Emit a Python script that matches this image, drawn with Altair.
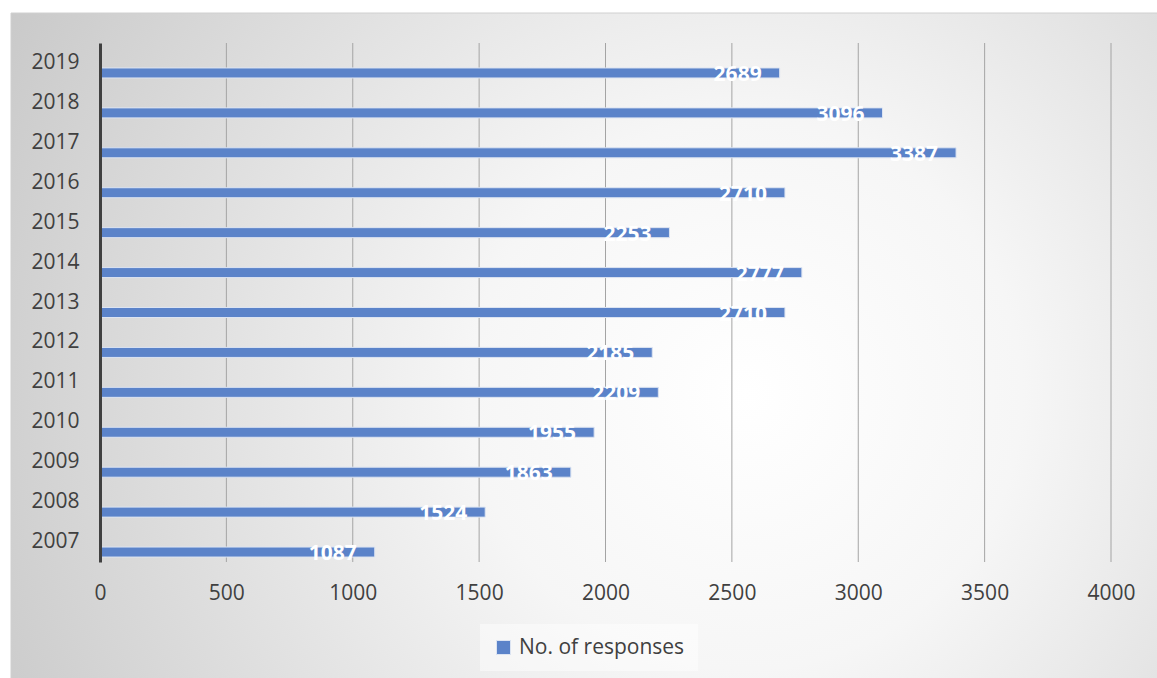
import altair as alt
import pandas as pd

years = ["2007", "2008", "2009", "2010", "2011", "2012", "2013",
         "2014", "2015", "2016", "2017", "2018", "2019"]
responses = [1087, 1524, 1863, 1955, 2209, 2185, 2710,
             2777, 2253, 2710, 3387, 3096, 2689]
series_name = "No. of responses"
x_ticks = [0, 500, 1000, 1500, 2000, 2500, 3000, 3500, 4000]

df = pd.DataFrame({"year": years, "value": responses, "series": series_name})
grid_df = pd.DataFrame({"value": x_ticks[1:]})

FONT = "Open Sans"
BAR = "#5b83c9"
FS = 21

bg = alt.Chart(alt.Data(values=[{"a": 1}])).mark_rect(
    fill=alt.RadialGradient(
        gradient="radial",
        x1=0.64, y1=0.54, r1=0.0,
        x2=0.64, y2=0.54, r2=0.8,
        stops=[
            alt.GradientStop(offset=0, color="#ffffff"),
            alt.GradientStop(offset=0.3, color="#f6f6f6"),
            alt.GradientStop(offset=1, color="#c2c2c2"),
        ],
    ),
    stroke="#d0d0d0",
    strokeWidth=1,
).encode(
    x=alt.value(-89), x2=alt.value(1060),
    y=alt.value(-30), y2=alt.value(640),
)

x_axis = alt.Axis(title=None, values=x_ticks, ticks=False, domain=False,
                  grid=False, zindex=2, format="d", labelFlush=False,
                  labelPadding=20, labelFontSize=FS, labelFont=FONT,
                  labelColor="#404040")
x_scale = alt.Scale(domain=[0, 4000], nice=False)

grid = alt.Chart(grid_df).mark_rule(color="#a4a4a4", strokeWidth=1).encode(
    x=alt.X("value:Q", scale=x_scale, axis=x_axis),
    y=alt.value(0), y2=alt.value(519),
)

y_enc = alt.Y("year:O", sort="descending",
              scale=alt.Scale(paddingInner=0, paddingOuter=0),
              axis=alt.Axis(title=None, ticks=False, grid=False, domain=True,
                            domainColor="#404040", domainWidth=3, zindex=2,
                            labelPadding=21, labelFontSize=FS, labelFont=FONT,
                            labelColor="#404040"))

bars = alt.Chart(df).mark_bar(size=10, yOffset=10, stroke="#dce4f2",
                              strokeWidth=1).encode(
    x=alt.X("value:Q", scale=x_scale, axis=x_axis),
    y=y_enc,
    color=alt.Color("series:N",
                    scale=alt.Scale(domain=[series_name], range=[BAR]),
                    legend=alt.Legend(title=None, orient="none",
                                      legendX=380, legendY=581,
                                      symbolType="square", symbolSize=196,
                                      symbolStrokeColor="#dce4f2", symbolStrokeWidth=1,
                                      labelFontSize=FS, labelFont=FONT,
                                      labelColor="#404040", labelLimit=400,
                                      padding=13, labelOffset=5,
                                      fillColor="rgba(255,255,255,0.45)")),
)

labels = alt.Chart(df).mark_text(align="right", baseline="middle", dx=-18,
                                 yOffset=12, color="white", fontSize=FS,
                                 fontWeight="bold", font=FONT).encode(
    x=alt.X("value:Q", scale=x_scale, axis=x_axis),
    y=alt.Y("year:O", sort="descending"),
    text="value:Q",
)

chart = alt.layer(bg, grid, bars, labels).properties(
    width=1011, height=519,
    autosize=alt.AutoSizeParams(type="none"),
    padding={"left": 100, "top": 43, "right": 46, "bottom": 116},
    background="white",
).configure_view(stroke=None)

chart.save("out.html", embed_options={"renderer": "svg", "actions": False})
